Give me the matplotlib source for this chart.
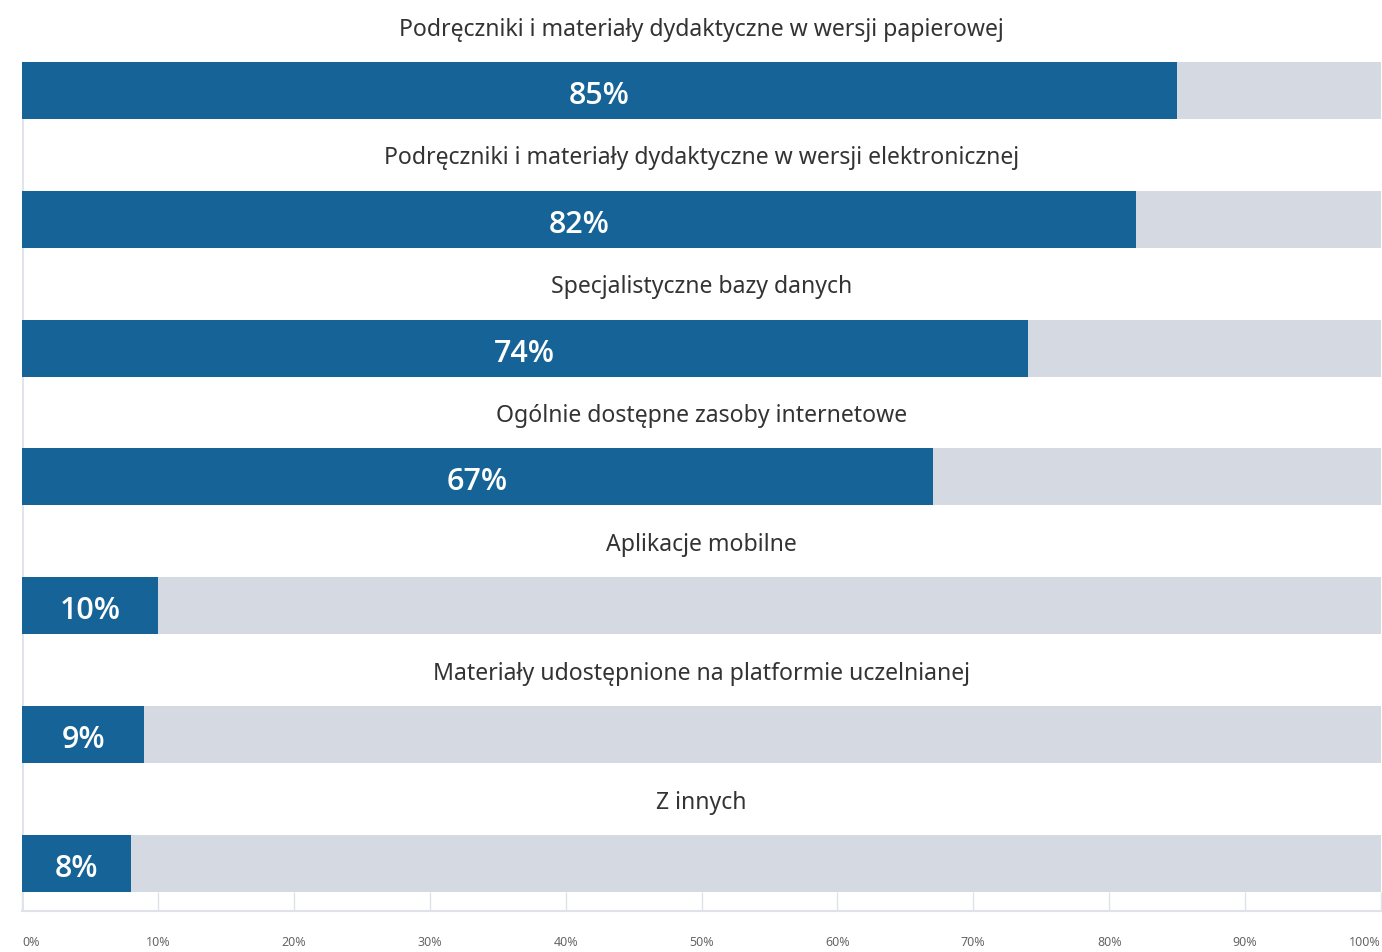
import matplotlib
matplotlib.use("Agg")
import matplotlib.pyplot as plt

plt.rcParams['font.family'] = ['Noto Sans', 'DejaVu Sans']

categories = [
    "Podręczniki i materiały dydaktyczne w wersji papierowej",
    "Podręczniki i materiały dydaktyczne w wersji elektronicznej",
    "Specjalistyczne bazy danych",
    "Ogólnie dostępne zasoby internetowe",
    "Aplikacje mobilne",
    "Materiały udostępnione na platformie uczelnianej",
    "Z innych",
]
values = [85, 82, 74, 67, 10, 9, 8]
tick_values = [0, 10, 20, 30, 40, 50, 60, 70, 80, 90, 100]
tick_labels = [f"{t}%" for t in tick_values]

BAR_COLOR = "#166497"
TRACK_COLOR = "#d5d9e1"
GRID_COLOR = "#dfe2e8"

W, H = 1382, 953
fig = plt.figure(figsize=(W / 100, H / 100), dpi=100)
ax = fig.add_axes([22 / W, 41 / H, 1359 / W, 912 / H])

bar_h = 57 / 128.8
ypos = list(range(len(categories)))

ax.barh(ypos, [100] * len(values), height=bar_h, color=TRACK_COLOR, zorder=1)
ax.barh(ypos, values, height=bar_h, color=BAR_COLOR, zorder=2)

for y, v, name in zip(ypos, values, categories):
    ax.text(v / 2, y + 0.035, f"{v}%", ha="center", va="center", color="white",
            fontsize=22, fontweight="semibold", family=["Open Sans", "DejaVu Sans"],
            zorder=3)
    ax.text(50, y - 0.48, name, ha="center", va="center", color="#333333",
            fontsize=16.6, zorder=3)

ax.set_xlim(0, 100)
ax.set_ylim(6.369, -0.710)

for s in ["top", "right", "left"]:
    ax.spines[s].set_visible(False)
ax.spines["bottom"].set_color(GRID_COLOR)
ax.spines["bottom"].set_linewidth(1.5)
ax.vlines(0, 0, 6.369, color=GRID_COLOR, lw=2, zorder=0)

ax.set_yticks([])
ax.set_xticks(tick_values)
ax.set_xticklabels(tick_labels, fontsize=9, color="#666666")
ax.tick_params(axis="x", direction="in", length=13.5, width=1, color=GRID_COLOR, pad=17)
labels = ax.get_xticklabels()
labels[0].set_horizontalalignment("left")
labels[-1].set_horizontalalignment("right")

fig.savefig("out.png", dpi=100, facecolor="white")
